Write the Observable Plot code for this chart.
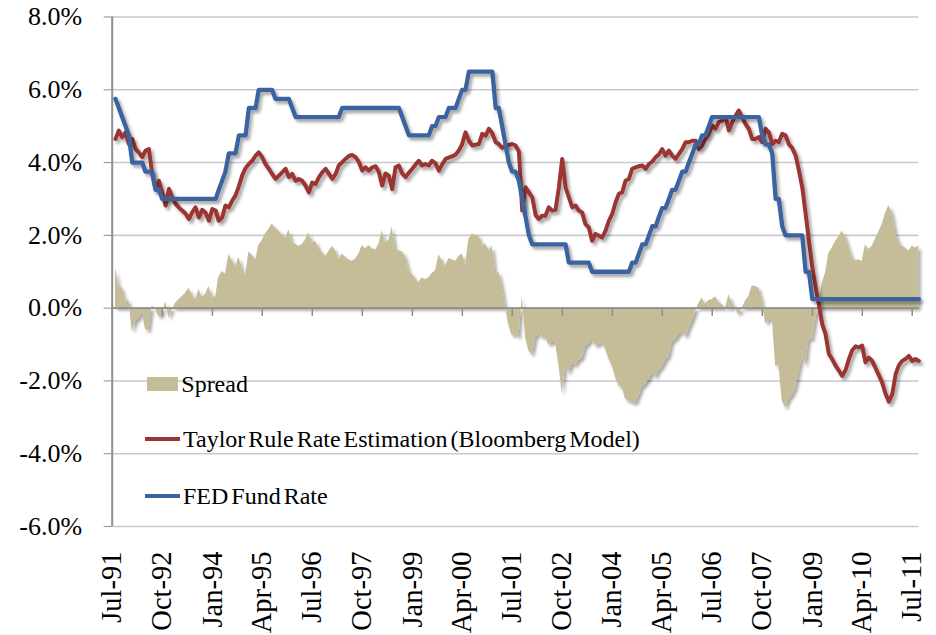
<!DOCTYPE html>
<html><head><meta charset="utf-8">
<script src="https://cdn.jsdelivr.net/npm/d3@7"></script>
<script src="https://cdn.jsdelivr.net/npm/@observablehq/plot@0.6"></script>
<style>
body{margin:0;background:#fff;}
#wrap{position:relative;width:936px;height:635px;overflow:hidden;}
#legend{position:absolute;left:0;top:0;font-family:"Liberation Serif","Times New Roman",serif;font-size:24px;color:#000;}
.item{position:absolute;white-space:nowrap;display:flex;align-items:center;height:24px;line-height:24px;word-spacing:-3px;}
.sw{display:inline-block;margin-right:3px;}
</style></head><body>
<div id="wrap"><div id="chart"></div><div id="legend"></div></div>
<script>
// ---- data (monthly, first month = Jul 1991, month-end values, %) ----
const startMonth = "1991-07";
const fedFundRate = [
  5.75,5.50,5.25,5.00,4.75,4.00,
  4.00,4.00,4.00,3.75,3.75,3.75,3.25,3.25,3.00,3.00,3.00,3.00,
  3.00,3.00,3.00,3.00,3.00,3.00,3.00,3.00,3.00,3.00,3.00,3.00,
  3.00,3.25,3.50,3.75,4.25,4.25,4.25,4.75,4.75,4.75,5.50,5.50,
  5.50,6.00,6.00,6.00,6.00,6.00,5.75,5.75,5.75,5.75,5.75,5.50,
  5.25,5.25,5.25,5.25,5.25,5.25,5.25,5.25,5.25,5.25,5.25,5.25,
  5.25,5.25,5.50,5.50,5.50,5.50,5.50,5.50,5.50,5.50,5.50,5.50,
  5.50,5.50,5.50,5.50,5.50,5.50,5.50,5.50,5.25,5.00,4.75,4.75,
  4.75,4.75,4.75,4.75,4.75,5.00,5.00,5.25,5.25,5.25,5.50,5.50,
  5.50,5.75,6.00,6.00,6.50,6.50,6.50,6.50,6.50,6.50,6.50,6.50,
  5.50,5.50,5.00,4.50,4.00,3.75,3.75,3.50,3.00,2.50,2.00,1.75,
  1.75,1.75,1.75,1.75,1.75,1.75,1.75,1.75,1.75,1.75,1.25,1.25,
  1.25,1.25,1.25,1.25,1.25,1.00,1.00,1.00,1.00,1.00,1.00,1.00,
  1.00,1.00,1.00,1.00,1.00,1.25,1.25,1.50,1.75,1.75,2.00,2.25,
  2.25,2.50,2.75,2.75,3.00,3.25,3.25,3.50,3.75,3.75,4.00,4.25,
  4.50,4.50,4.75,4.75,5.00,5.25,5.25,5.25,5.25,5.25,5.25,5.25,
  5.25,5.25,5.25,5.25,5.25,5.25,5.25,5.25,4.75,4.50,4.50,4.25,
  3.00,3.00,2.25,2.00,2.00,2.00,2.00,2.00,2.00,1.00,1.00,0.25,
  0.25,0.25,0.25,0.25,0.25,0.25,0.25,0.25,0.25,0.25,0.25,0.25,
  0.25,0.25,0.25,0.25,0.25,0.25,0.25,0.25,0.25,0.25,0.25,0.25,
  0.25,0.25,0.25,0.25,0.25,0.25,0.25,0.25
];
const taylorRule = [
  4.65,4.88,4.70,4.83,4.51,4.65,
  4.37,4.28,4.15,4.33,4.37,3.69,3.27,3.50,3.18,2.82,3.28,3.04,
  2.86,2.77,2.68,2.60,2.45,2.63,2.77,2.49,2.70,2.62,2.40,2.72,
  2.68,2.40,2.49,2.82,2.77,2.95,3.10,3.35,3.65,3.85,3.96,4.05,
  4.19,4.28,4.15,3.96,3.83,3.69,3.55,3.64,3.73,3.83,3.60,3.69,
  3.50,3.55,3.50,3.37,3.18,3.45,3.41,3.60,3.73,3.83,3.69,3.55,
  3.69,3.92,4.01,4.10,4.18,4.21,4.15,4.01,3.78,3.87,3.78,3.87,
  3.90,3.75,3.37,3.70,3.64,3.27,3.87,3.92,3.70,3.60,3.72,3.83,
  3.95,4.05,3.92,3.96,3.92,4.05,3.98,3.78,3.95,4.10,4.14,4.17,
  4.22,4.33,4.51,4.83,4.60,4.47,4.49,4.51,4.79,4.74,4.93,4.80,
  4.56,4.51,4.40,4.47,4.48,4.51,4.47,4.30,2.68,3.32,3.18,3.04,
  2.55,2.45,2.54,2.54,2.77,2.68,2.70,3.32,4.10,3.32,3.04,2.77,
  2.82,2.68,2.63,2.31,2.22,1.85,2.04,1.99,1.94,2.13,2.40,2.59,
  2.91,3.14,3.18,3.50,3.55,3.83,3.87,3.90,3.92,3.83,3.96,4.03,
  4.15,4.22,4.37,4.19,4.33,4.19,4.10,4.24,4.37,4.56,4.56,4.60,
  4.60,4.37,4.47,4.65,4.79,5.02,4.93,5.11,5.15,5.25,4.88,5.11,
  5.29,5.43,5.25,5.06,4.93,4.65,4.65,4.70,4.56,4.93,4.83,4.51,
  4.60,4.56,4.79,4.75,4.50,4.40,4.20,3.78,3.32,2.59,1.85,1.12,
  0.57,0.11,-0.44,-0.71,-1.26,-1.40,-1.58,-1.72,-1.86,-1.70,-1.40,-1.15,
  -1.05,-1.08,-1.03,-1.49,-1.36,-1.45,-1.65,-1.85,-2.05,-2.36,-2.57,-2.36,
  -1.81,-1.58,-1.45,-1.40,-1.31,-1.45,-1.40,-1.45
];
const tickLabels = ["Jul-91","Oct-92","Jan-94","Apr-95","Jul-96","Oct-97","Jan-99","Apr-00","Jul-01",
  "Oct-02","Jan-04","Apr-05","Jul-06","Oct-07","Jan-09","Apr-10","Jul-11"];
const yTicks = [-6,-4,-2,0,2,4,6,8];
const seriesNames = ["Spread","Taylor Rule Rate Estimation (Bloomberg Model)","FED Fund Rate"];
const seriesColors = ["#C4BD97","#9A3533","#3A63A0"];

// ---- table ----
const start = d3.utcParse("%Y-%m")(startMonth);
const table = fedFundRate.map((fed, i) => ({
  date: d3.utcDay.offset(d3.utcMonth.offset(start, i + 1), -1),
  fed,
  taylor: taylorRule[i],
  spread: fed - taylorRule[i]   // spread = FED fund rate - Taylor rule rate
}));
const xTickDates = tickLabels.map(d3.utcParse("%b-%y"));
const xDomain = [xTickDates[0], table[table.length - 1].date];

const chart = Plot.plot({
  width: 936, height: 635,
  marginLeft: 111.7, marginRight: 17.6, marginTop: 16.5, marginBottom: 109,
  style: {fontFamily: '"Liberation Serif","Times New Roman",serif', background: "#fff", color: "#000", overflow: "visible"},
  x: {type: "utc", domain: xDomain},
  y: {domain: [-6, 8]},
  marks: [
    Plot.gridY(yTicks, {stroke: "#c9c9c9", strokeOpacity: 1, strokeWidth: 1.6}),
    Plot.areaY(table, {x: "date", y1: 0, y2: "spread", fill: seriesColors[0]}),
    Plot.ruleY([0], {stroke: "#8e8e8e", strokeWidth: 1.8}),
    Plot.ruleX(xTickDates, {y1: 0, y2: -0.23, stroke: "#8e8e8e", strokeWidth: 1.5}),
    Plot.ruleX([xDomain[0]], {stroke: "#8e8e8e", strokeWidth: 2}),
    Plot.lineY(table, {x: "date", y: "taylor", stroke: seriesColors[1], strokeWidth: 4, strokeLinejoin: "round"}),
    Plot.lineY(table, {x: "date", y: "fed", stroke: seriesColors[2], strokeWidth: 4.3, strokeLinejoin: "round"}),
    Plot.axisY(yTicks, {tickSize: 8, tickPadding: 22, stroke: "#8e8e8e", fill: "#000", fontSize: 26,
      tickFormat: d => d.toFixed(1) + "%"}),
    Plot.axisX(xTickDates, {anchor: "bottom", tickSize: 0, tickPadding: 25, tickRotate: -90, fontSize: 28.5,
      fill: "#000", tickFormat: d3.utcFormat("%b-%y")})
  ]
});
document.getElementById("chart").appendChild(chart);

// drop shadows like the original
const svg = d3.select(chart);
svg.insert("defs", ":first-child").html(
  '<filter id="shadow" x="-5%" y="-5%" width="115%" height="120%">' +
  '<feDropShadow dx="2.5" dy="3" stdDeviation="1.6" flood-color="#000" flood-opacity="0.35"/></filter>');
svg.selectAll('g[aria-label="line"], g[aria-label="area"]').attr("filter", "url(#shadow)");

// legend (inside plot area, as in the original)
const legend = d3.select("#legend");
const items = [
  {name: seriesNames[0], color: seriesColors[0], kind: "rect", top: 372, left: 146.7},
  {name: seriesNames[1], color: seriesColors[1], kind: "line", top: 427, left: 145},
  {name: seriesNames[2], color: seriesColors[2], kind: "line", top: 484, left: 145}
];
items.forEach(it => {
  const div = legend.append("div").attr("class", "item").style("left", it.left + "px").style("top", it.top + "px");
  if (it.kind === "rect") {
    div.append("span").attr("class", "sw").style("width", "31.6px").style("height", "13.4px").style("background", it.color);
  } else {
    div.append("span").attr("class", "sw").style("width", "35px").style("height", "3.4px").style("background", it.color);
  }
  div.append("span").text(it.name);
});
</script>
</body></html>
